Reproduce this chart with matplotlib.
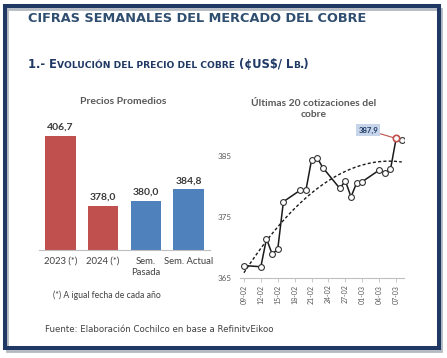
import matplotlib
matplotlib.use("Agg")
import matplotlib.pyplot as plt
import matplotlib.transforms as mtransforms
from matplotlib.patches import Rectangle
import matplotlib.dates as mdates
import numpy as np

# ---------------- data ----------------
bar_labels = ["2023 (*)", "2024 (*)", "Sem.\nPasada", "Sem. Actual"]
bar_values = [406.7, 378.0, 380.0, 384.8]
bar_colors = ["#C0504D", "#C0504D", "#4F81BD", "#4F81BD"]

dates = ["2024-02-09", "2024-02-12", "2024-02-13", "2024-02-14", "2024-02-15",
         "2024-02-16", "2024-02-19", "2024-02-20", "2024-02-21", "2024-02-22",
         "2024-02-23", "2024-02-26", "2024-02-27", "2024-02-28", "2024-02-29",
         "2024-03-01", "2024-03-04", "2024-03-05", "2024-03-06", "2024-03-07",
         "2024-03-08"]
prices = [367.0, 366.8, 371.4, 368.9, 369.7, 377.5, 379.4, 379.4, 384.4, 384.7,
          383.1, 379.7, 380.9, 378.3, 380.6, 380.8, 382.7, 382.3, 382.8, 387.9,
          387.6]
highlight_index = 19
highlight_label = "387,9"
y_ticks = [365, 375, 385]

W, H = 447, 358
fig = plt.figure(figsize=(W / 100, H / 100), dpi=100)
fig.patch.set_facecolor("white")

def fx(px):
    return px / W

def fy(py):
    return 1 - py / H

# frame with shadow
fig.patches.append(Rectangle((fx(7), fy(350.5)), fx(434), (346 - 4) / H, transform=fig.transFigure,
                             fill=False, edgecolor="#B4BAC2", linewidth=2.0, zorder=0))
fig.patches.append(Rectangle((fx(5.3), fy(348.3)), fx(433.4), (348.3 - 5.7) / H, transform=fig.transFigure,
                             fill=False, edgecolor="#1F3864", linewidth=2.9, zorder=1))

# title
fig.text(fx(28), fy(19), "CIFRAS SEMANALES DEL MERCADO DEL COBRE", fontsize=9.3,
         fontweight="bold", color="#2F4E70", family="DejaVu Sans", va="center", ha="left")

# subtitle with small caps
renderer = fig.canvas.get_renderer()
pieces = [("1.- E", 8.3), ("VOLUCIÓN DEL PRECIO DEL COBRE", 6.6), (" (¢US$/ L", 8.3),
          ("B", 6.6), (".)", 8.3)]
tr = fig.transFigure
for s, size in pieces:
    t = fig.text(fx(28), fy(68), s, fontsize=size, fontweight="bold", color="#1F3864",
                 family="DejaVu Sans", va="baseline", ha="left", transform=tr)
    ext = t.get_window_extent(renderer)
    tr = mtransforms.offset_copy(t.get_transform(), fig=fig, x=ext.width, units="dots")

# ---------------- left bar chart ----------------
axb = fig.add_axes([fx(39), fy(250), fx(171), 135 / H])
x = np.arange(len(bar_values))
axb.bar(x, bar_values, width=0.71, color=bar_colors, zorder=2)
axb.set_xlim(-0.5, 3.5)
axb.set_ylim(360, 415.3)
for xi, v in zip(x, bar_values):
    axb.annotate(f"{v:.1f}".replace(".", ","), (xi, v), xytext=(0, 3), textcoords="offset points",
                 ha="center", va="bottom", fontsize=7.5, fontweight="bold", color="#3A3A3A",
                 family="Lato")
axb.set_xticks(x)
axb.set_xticklabels(bar_labels, fontsize=6.8, color="#404040", family="Lato", linespacing=1.25)
axb.tick_params(axis="x", length=0, pad=5)
axb.set_yticks([])
for s in ["top", "right", "left"]:
    axb.spines[s].set_visible(False)
axb.spines["bottom"].set_color("#BFBFBF")
axb.spines["bottom"].set_linewidth(0.8)
axb.patch.set_alpha(0)

fig.text(fx(123), fy(102), "Precios Promedios", fontsize=7.5, fontweight="bold", color="#595959",
         family="Lato", ha="center", va="center")
fig.text(fx(107), fy(295), "(*) A igual fecha de cada año", fontsize=6.2, color="#404040",
         family="Lato", ha="center", va="center")

# ---------------- right line chart ----------------
axl = fig.add_axes([fx(240), fy(277.7), fx(164), (277.7 - 125.7) / H])
d = np.array([mdates.datestr2num(s) for s in dates])
p = np.array(prices)
axl.plot(d, p, color="#1A1A1A", linewidth=1.1, marker="o", markersize=4.2,
         markerfacecolor="white", markeredgecolor="#333333", markeredgewidth=0.8, zorder=3)
# quadratic trendline
coef = np.polyfit(d - d[0], p, 2)
dd = np.linspace(d[0], d[-1], 200)
axl.plot(dd, np.polyval(coef, dd - d[0]), color="#1A1A1A", linestyle=(0, (2.2, 1.6)),
         linewidth=1.0, zorder=2)
# highlight
hx, hy = d[highlight_index], p[highlight_index]
axl.plot([hx], [hy], marker="o", markersize=4.6, markerfacecolor="white",
         markeredgecolor="#C0504D", markeredgewidth=1.2, zorder=4)
axl.annotate(highlight_label, (hx, hy), xytext=(-13, 6), textcoords="offset points",
             ha="right", va="center", fontsize=5.6, fontweight="bold", color="#1F3864",
             family="Lato",
             bbox=dict(boxstyle="square,pad=0.3", facecolor="#C6D5EA", edgecolor="none"),
             arrowprops=dict(arrowstyle="-", color="#C0504D", linewidth=0.8,
                             shrinkA=0, shrinkB=2))

axl.set_xlim(d[0] - 0.7, d[-1] + 0.4)
axl.set_ylim(365, 390)
ticks = np.arange(d[0], d[-1], 3)
axl.set_xticks(ticks)
axl.xaxis.set_major_formatter(mdates.DateFormatter("%d-%m"))
axl.tick_params(axis="x", labelrotation=90, labelsize=5, labelcolor="#595959", color="#BFBFBF",
                length=3, width=0.6, pad=2)
for lab in axl.get_xticklabels():
    lab.set_family("Lato")
axl.set_yticks(y_ticks)
axl.tick_params(axis="y", length=0, labelsize=5.8, labelcolor="#595959", pad=6)
for lab in axl.get_yticklabels():
    lab.set_family("Lato")
for s in ["top", "right", "left"]:
    axl.spines[s].set_visible(False)
axl.spines["bottom"].set_color("#BFBFBF")
axl.spines["bottom"].set_linewidth(0.8)
axl.patch.set_alpha(0)

fig.text(fx(314), fy(109), "Últimas 20 cotizaciones del\ncobre", fontsize=7.4, fontweight="bold",
         color="#595959", family="Lato", ha="center", va="center", linespacing=1.25)

# footer
fig.text(fx(45), fy(329), "Fuente: Elaboración Cochilco en base a RefinitvEikoo", fontsize=6.2,
         color="#404040", family="DejaVu Sans", ha="left", va="center")

fig.savefig("out.png", dpi=100, facecolor="white")
